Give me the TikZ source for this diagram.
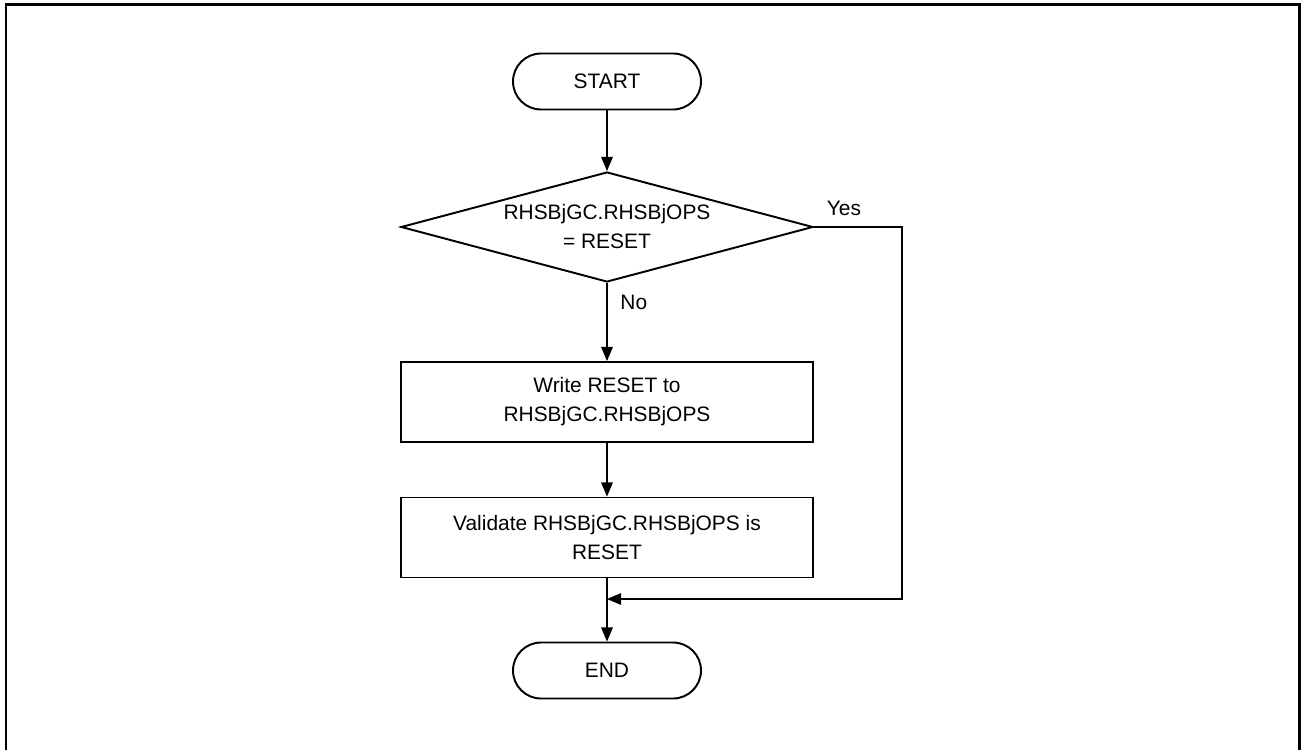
\documentclass[tikz,border=0pt]{standalone}
\usepackage{fontspec}
\setmainfont{Liberation Sans}
\usetikzlibrary{arrows.meta,shapes.geometric}

\begin{document}
\begin{tikzpicture}[>={Triangle[length=8pt,width=6.6pt]},
  font=\fontsize{11.9}{16.5}\selectfont,
  term/.style={draw,line width=1.1pt,rectangle,rounded corners=0.56cm,minimum width=3.76cm,minimum height=1.12cm},
  decision/.style={draw,line width=1.1pt,diamond,aspect=3.75,inner sep=1pt,minimum width=8.24cm,minimum height=2.2cm,align=center},
  proc/.style={draw,line width=1.1pt,rectangle,minimum width=8.24cm,minimum height=1.6cm,align=center},
  flow/.style={line width=0.6pt}]
\useasboundingbox (0,0) rectangle (26.02,-14.98);
\draw[line width=1.2pt] (0.116,-15.3) |- (25.99,-0.09) -- (25.99,-15.3);
% nodes
\node[term] (start) at (12.14,-1.63) {START};
\node[decision] (check) at (12.14,-4.54) {RHSBjGC.RHSBjOPS\\= RESET};
\node[proc] (write) at (12.14,-8.04) {Write RESET to\\RHSBjGC.RHSBjOPS};
\node[proc] (validate) at (12.14,-10.75) {Validate RHSBjGC.RHSBjOPS is\\RESET};
\node[term] (finish) at (12.14,-13.41) {END};
\coordinate (rtop) at (18.04,-4.54);
\coordinate (rbot) at (18.04,-11.98);
\coordinate (merge) at (12.14,-11.98);
% connectors
\draw[flow,->] (start) -- (check);
\draw[flow,->] (check) -- node[pos=0.25,right=4pt]{No} (write);
\draw[flow,->] (write) -- (validate);
\draw[flow,->] (validate) -- (finish);
\draw[flow,->] (check.east) -- node[pos=0.34,above=3pt]{Yes} (rtop) -- (rbot) -- (merge);
\end{tikzpicture}
\end{document}
